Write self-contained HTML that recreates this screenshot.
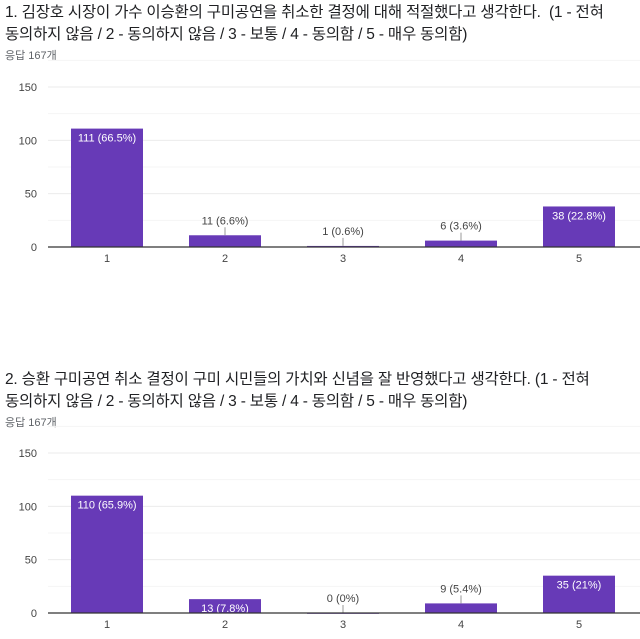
<!DOCTYPE html>
<html><head><meta charset="utf-8"><style>
body{margin:0;background:#fff;width:640px;height:639px;overflow:hidden;font-family:"Liberation Sans","Noto Sans CJK KR",sans-serif;}
.t{position:absolute;left:5px;font-size:15.5px;color:#202124;line-height:22px;letter-spacing:-0.2px}
.s{position:absolute;left:5px;font-size:11px;color:#5f6368}
svg{position:absolute;left:0;top:0}
</style></head><body>
<div class="t" style="top:2px">1. 김장호 시장이 가수 이승환의 구미공연을 취소한 결정에 대해 적절했다고 생각한다. &nbsp;(1 - 전혀<br>동의하지 않음 / 2 - 동의하지 않음 / 3 - 보통 / 4 - 동의함 / 5 - 매우 동의함)</div>
<div class="s" style="top:47px">응답 167개</div>
<div class="t" style="top:369px">2. 승환 구미공연 취소 결정이 구미 시민들의 가치와 신념을 잘 반영했다고 생각한다. (1 - 전혀<br>동의하지 않음 / 2 - 동의하지 않음 / 3 - 보통 / 4 - 동의함 / 5 - 매우 동의함)</div>
<div class="s" style="top:414px">응답 167개</div>
<svg id="c" width="640" height="639"></svg>
<script>
const categories=["1","2","3","4","5"];
const values1=[111,11,1,6,38];
const labels1=["111 (66.5%)","11 (6.6%)","1 (0.6%)","6 (3.6%)","38 (22.8%)"];
const values2=[110,13,0,9,35];
const labels2=["110 (65.9%)","13 (7.8%)","0 (0%)","9 (5.4%)","35 (21%)"];
const yTicks=[0,50,100,150];
const NS="http://www.w3.org/2000/svg";
const svg=document.getElementById('c');
function mk(tag,attrs,parent){const e=document.createElementNS(NS,tag);for(const k in attrs)e.setAttribute(k,attrs[k]);(parent||svg).appendChild(e);return e;}
function chart(id,y0,values,labels){
  const g=mk('g',{});
  
  
  const yS=v=>y0-v*(160/150);
  const xS=i=>107+i*118;
  yTicks.forEach(t=>{
    if(t>0){const l=mk('line',{x1:48,x2:640,y1:yS(t),y2:yS(t),stroke:'#ebebeb','stroke-width':1},g);
    }
    const mid=mk('line',{x1:48,x2:640,y1:yS(t+25),y2:yS(t+25),stroke:'#f5f5f5','stroke-width':1},g);
    
    const tx=mk('text',{x:37,y:yS(t)+4,'text-anchor':'end','font-size':11,fill:'#444'},g);
    tx.textContent=t;
    
  });
  values.forEach((v,i)=>{
    const x=xS(i),top=yS(v),h=y0-top;
    const r=mk('rect',{x:x-36,y:top,width:72,height:Math.max(h,0.8),fill:'#673ab7'},g);
    
    const t=mk('text',{x:x,'text-anchor':'middle','font-size':11},g);
    t.textContent=labels[i];
    
    if(h>=13){t.setAttribute('y',top+13);t.setAttribute('fill','#fff');}
    else{t.setAttribute('y',top-11);t.setAttribute('fill','#444');
      const l=mk('line',{x1:x,x2:x,y1:top-8,y2:top,stroke:'#999','stroke-width':1},g);
      }
    const xl=mk('text',{x:x,y:y0+15,'text-anchor':'middle','font-size':11,fill:'#444'},g);
    xl.textContent=categories[i];
    
  });
  const ax=mk('line',{x1:48,x2:640,y1:y0,y2:y0,stroke:'#333','stroke-width':1.2},g);
  
}
chart('chart-question-1',247,values1,labels1);
chart('chart-question-2',613,values2,labels2);
</script>
</body></html>
